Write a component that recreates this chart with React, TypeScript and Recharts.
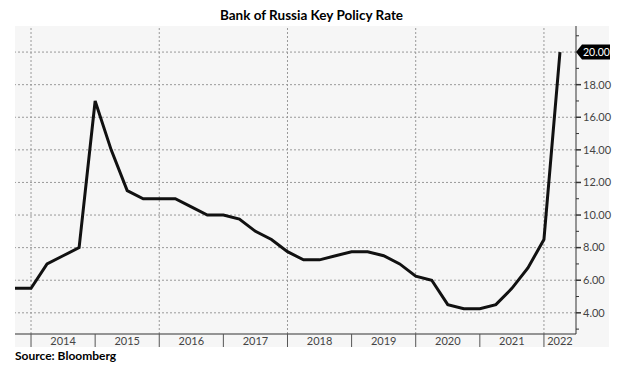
import React from "react";
import { LineChart, Line, XAxis, YAxis, ReferenceLine } from "recharts";

// Quarterly samples (decimal years) of the Bank of Russia key rate, %
const dates = [
  2013.75, 2014.0, 2014.25, 2014.5, 2014.75, 2015.0, 2015.25, 2015.5, 2015.75,
  2016.0, 2016.25, 2016.5, 2016.75, 2017.0, 2017.25, 2017.5, 2017.75,
  2018.0, 2018.25, 2018.5, 2018.75, 2019.0, 2019.25, 2019.5, 2019.75,
  2020.0, 2020.25, 2020.5, 2020.75, 2021.0, 2021.25, 2021.5, 2021.75,
  2022.0, 2022.25,
];
const rates = [
  5.5, 5.5, 7.0, 7.5, 8.0, 17.0, 14.0, 11.5, 11.0,
  11.0, 11.0, 10.5, 10.0, 10.0, 9.75, 9.0, 8.5,
  7.75, 7.25, 7.25, 7.5, 7.75, 7.75, 7.5, 7.0,
  6.25, 6.0, 4.5, 4.25, 4.25, 4.5, 5.5, 6.75,
  8.5, 20.0,
];

const years = [2014, 2015, 2016, 2017, 2018, 2019, 2020, 2021, 2022];
const gridYears = [2014, 2016, 2018, 2020, 2022];
const xDomain: [number, number] = [2013.75, 2022.5];
const yDomain: [number, number] = [2.7, 21.6];
const yTicks = [3, 4, 5, 6, 7, 8, 9, 10, 11, 12, 13, 14, 15, 16, 17, 18, 19, 20, 21];
const yGrid = [4, 6, 8, 10, 12, 14, 16, 18, 20];

const title = "Bank of Russia Key Policy Rate";
const source = "Source: Bloomberg";

const data = dates.map((t, i) => ({ t, rate: rates[i] }));
const lastRate = rates[rates.length - 1];
const labelTicks = years.map((y) => (y + Math.min(y + 1, xDomain[1])) / 2);

const FONT = "Lato, 'Noto Sans', sans-serif";

const XTick = (props: any) => {
  const { x, y, payload } = props;
  const v = payload.value as number;
  if (Number.isInteger(v)) {
    return <line x1={x} x2={x} y1={y} y2={y + 13} stroke="#555" strokeWidth={1} />;
  }
  return (
    <text x={x} y={y + 11} textAnchor="middle" fontSize={11} fill="#444" fontFamily={FONT}>
      {Math.floor(v)}
    </text>
  );
};

const YTick = (props: any) => {
  const { x, y, payload } = props;
  const v = payload.value as number;
  if (v === lastRate) {
    return (
      <g>
        <polygon
          points={`${x},${y} ${x + 6},${y - 7.5} ${x + 34},${y - 7.5} ${x + 34},${y + 7.5} ${x + 6},${y + 7.5}`}
          fill="#000"
        />
        <text x={x + 7} y={y} dy="0.35em" fontSize={10.5} fill="#fff" fontFamily={FONT}>
          {v.toFixed(2)}
        </text>
      </g>
    );
  }
  if (v % 2 === 0) {
    return (
      <g>
        <line x1={x} x2={x + 5} y1={y} y2={y} stroke="#333" strokeWidth={1.5} />
        <text x={x + 7} y={y} dy="0.35em" fontSize={11} fill="#444" fontFamily={FONT}>
          {v.toFixed(2)}
        </text>
      </g>
    );
  }
  return <line x1={x} x2={x + 3} y1={y} y2={y} stroke="#333" strokeWidth={1} />;
};

export default function App() {
  return (
    <div
      style={{
        position: "absolute",
        left: 0,
        top: 0,
        width: 623,
        height: 371,
        background: "#fff",
        fontFamily: FONT,
        overflow: "hidden",
      }}
    >
      <div
        style={{
          position: "absolute",
          left: 15,
          top: 26,
          width: 594,
          height: 321,
          background: "#f6f6f6",
        }}
      />
      <div
        style={{
          position: "absolute",
          left: 0,
          top: 7,
          width: 623,
          textAlign: "center",
          fontWeight: 700,
          fontSize: 13.5,
          lineHeight: "17px",
          color: "#000",
        }}
      >
        {title}
      </div>
      <div
        style={{
          position: "absolute",
          left: 15,
          top: 348,
          fontWeight: 700,
          fontSize: 12,
          lineHeight: "15px",
          color: "#000",
        }}
      >
        {source}
      </div>
      <div style={{ position: "absolute", left: 0, top: 0 }}>
        <LineChart
          width={623}
          height={371}
          data={data}
          margin={{ top: 26, right: 0, bottom: 23, left: 15 }}
        >
          <XAxis
            dataKey="t"
            type="number"
            domain={xDomain}
            ticks={[...years, ...labelTicks]}
            interval={0}
            allowDataOverflow
            tickLine={false}
            tickSize={0}
            tickMargin={0}
            height={14}
            axisLine={{ stroke: "#333", strokeWidth: 1 }}
            tick={<XTick />}
          />
          <YAxis
            orientation="right"
            type="number"
            domain={yDomain}
            ticks={yTicks}
            interval={0}
            allowDataOverflow
            tickLine={false}
            tickSize={0}
            tickMargin={0}
            width={47}
            axisLine={{ stroke: "#333", strokeWidth: 1 }}
            tick={<YTick />}
          />
          {yGrid.map((v) => (
            <ReferenceLine key={"h" + v} y={v} stroke="#999" strokeDasharray="2 2" strokeWidth={1} />
          ))}
          {gridYears.map((v) => (
            <ReferenceLine key={"v" + v} x={v} stroke="#999" strokeDasharray="2 2" strokeWidth={1} />
          ))}
          <Line
            type="linear"
            dataKey="rate"
            stroke="#111"
            strokeWidth={3}
            dot={false}
            isAnimationActive={false}
          />
        </LineChart>
      </div>
    </div>
  );
}
